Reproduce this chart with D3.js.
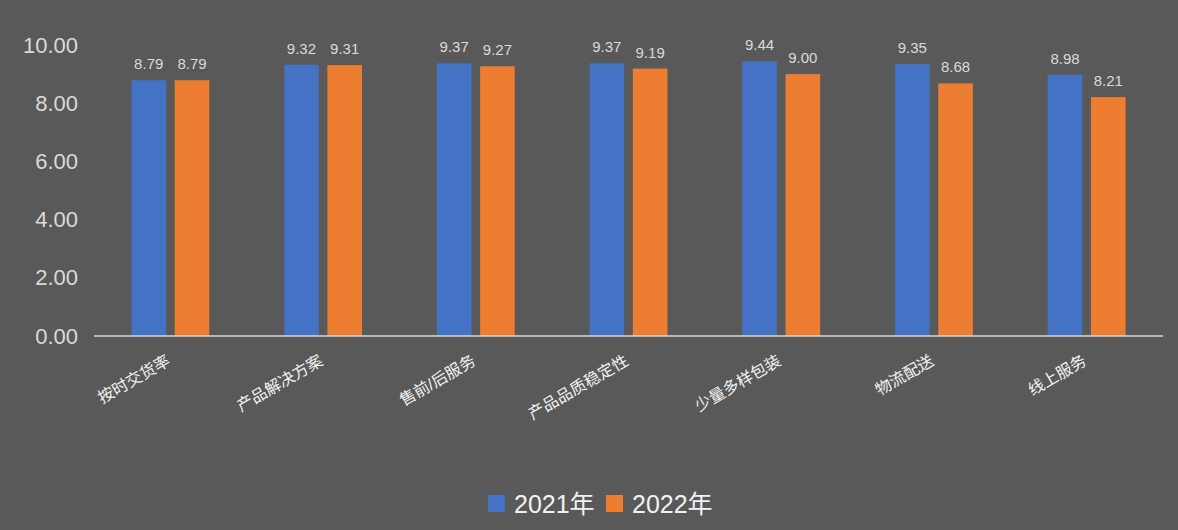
<!DOCTYPE html>
<html>
<head>
<meta charset="utf-8">
<script src="https://cdn.jsdelivr.net/npm/d3@7"></script>
<style>
  html, body { margin: 0; padding: 0; background: #595959; }
  svg { display: block; }
  text { font-family: "Liberation Sans", "Noto Sans CJK SC", sans-serif; fill: #d9d9d9; }
</style>
</head>
<body>
<svg id="chart" width="1178" height="530"></svg>
<script>
var categories = ["按时交货率", "产品解决方案", "售前/后服务", "产品品质稳定性", "少量多样包装", "物流配送", "线上服务"];
var seriesNames = ["2021年", "2022年"];
var values2021 = [8.79, 9.32, 9.37, 9.37, 9.44, 9.35, 8.98];
var values2022 = [8.79, 9.31, 9.27, 9.19, 9.00, 8.68, 8.21];
var yTicks = [0, 2, 4, 6, 8, 10];
var colors = ["#4472C4", "#ED7D31"];

var svg = d3.select("#chart");
var plotLeft = 94, plotRight = 1163, plotTop = 45, plotBottom = 336;

var x0 = d3.scaleBand()
	.domain(categories)
	.range([plotLeft, plotRight])
	.paddingInner(0.49)
	.paddingOuter(0.245);

var x1 = d3.scaleBand()
	.domain(seriesNames)
	.range([0, x0.bandwidth()])
	.paddingInner(0.2);

var y = d3.scaleLinear()
	.domain([0, 10])
	.range([plotBottom, plotTop]);

// y axis labels only
var yAxis = d3.axisLeft(y)
	.tickValues(yTicks)
	.tickFormat(d3.format(".2f"))
	.tickSize(0)
	.tickPadding(16);

svg.append("g")
	.attr("transform", "translate(" + plotLeft + ",0)")
	.call(yAxis)
	.call(function(g){ g.select(".domain").remove(); })
	.selectAll("text")
	.style("font-size", "22px")
	.attr("fill", "#d9d9d9");

var rows = categories.map(function(c, i){
	return { cat: c, vals: [values2021[i], values2022[i]] };
});

var groups = svg.selectAll("g.cat")
	.data(rows)
	.enter()
	.append("g")
	.attr("class", "cat")
	.attr("transform", function(d){ return "translate(" + x0(d.cat) + ",0)"; });

var bars = groups.selectAll("g.bar")
	.data(function(d){ return d.vals.map(function(v, j){ return { name: seriesNames[j], v: v, j: j }; }); })
	.enter()
	.append("g")
	.attr("class", "bar");

bars.append("rect")
	.attr("x", function(d){ return x1(d.name); })
	.attr("y", function(d){ return y(d.v); })
	.attr("width", x1.bandwidth())
	.attr("height", function(d){ return y(0) - y(d.v); })
	.attr("fill", function(d){ return colors[d.j]; });

bars.append("text")
	.attr("x", function(d){ return x1(d.name) + x1.bandwidth() / 2; })
	.attr("y", function(d){ return y(d.v) - 11; })
	.attr("text-anchor", "middle")
	.style("font-size", "15px")
	.text(function(d){ return d3.format(".2f")(d.v); });

// x axis
var xAxis = d3.axisBottom(x0).tickSize(0).tickFormat("");
svg.append("g")
	.attr("transform", "translate(0," + plotBottom + ")")
	.call(xAxis)
	.select(".domain")
	.attr("stroke", "#d9d9d9")
	.attr("stroke-width", 1.3)
	.attr("d", "M" + plotLeft + ",0H" + plotRight);

svg.selectAll("text.catlabel")
	.data(categories)
	.enter()
	.append("text")
	.attr("class", "catlabel")
	.attr("text-anchor", "end")
	.attr("transform", function(d){
		return "translate(" + (x0(d) + x0.bandwidth() / 2 + 1) + ",364) rotate(-30)";
	})
	.style("font-size", "16px")
	.style("fill", "#f2f2f2")
	.text(function(d){ return d; });

// legend
var legend = svg.append("g").attr("class", "legend");
var legendX = [488, 606];
seriesNames.forEach(function(name, i){
	legend.append("rect")
		.attr("x", legendX[i])
		.attr("y", 495)
		.attr("width", 17)
		.attr("height", 17)
		.attr("fill", colors[i]);
	legend.append("text")
		.attr("x", legendX[i] + 26)
		.attr("y", 513)
		.style("font-size", "25px")
		.style("fill", "#f2f2f2")
		.text(name);
});
</script>
</body>
</html>
